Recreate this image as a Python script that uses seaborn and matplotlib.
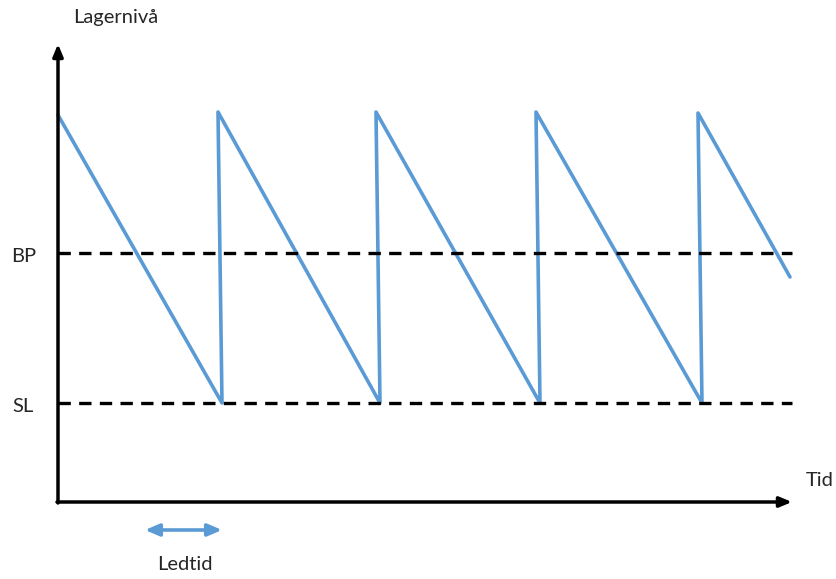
import matplotlib
matplotlib.use("Agg")
import matplotlib.pyplot as plt
import numpy as np
import pandas as pd
import seaborn as sns

# sawtooth inventory level (time, level)
time = [0, 164, 160, 322, 318, 482, 478, 644, 640, 732]
level = [387, 99, 390, 99, 390, 99, 390, 99, 389, 225]
bp_level = 249
sl_level = 99
lead_start, lead_end = 87, 164

sns.set_theme(style="white")
plt.rcParams["font.family"] = ["Lato", "DejaVu Sans"]

fig = plt.figure(figsize=(8.36, 5.79), dpi=100)
ax = fig.add_axes([0, 0, 1, 1])
ax.set_xlim(-58, 778)
ax.set_ylim(-77, 502)
ax.axis("off")

blue = "#5B9BD5"
df = pd.DataFrame({"time": time, "level": level})
sns.lineplot(data=df, x="time", y="level", sort=False, color=blue, linewidth=2.6, ax=ax)

for y in (bp_level, sl_level):
    ax.plot([0, 734], [y, y], color="black", linewidth=2.4, linestyle=(0, (3.7, 2.5)))

# axes with arrows
ax.annotate("", xy=(0, 458), xytext=(0, -1),
            arrowprops=dict(arrowstyle="-|>,head_length=0.6,head_width=0.25", color="black", lw=2.5,
                            shrinkA=0, shrinkB=0))
ax.annotate("", xy=(734, 0), xytext=(-1, 0),
            arrowprops=dict(arrowstyle="-|>,head_length=0.6,head_width=0.25", color="black", lw=2.5,
                            shrinkA=0, shrinkB=0))

# lead time double arrow
ax.annotate("", xy=(lead_end, -28), xytext=(lead_start, -28),
            arrowprops=dict(arrowstyle="<|-|>,head_length=0.7,head_width=0.3", color=blue, lw=2.6,
                            shrinkA=0, shrinkB=0))

fs = 14.5
ax.text(58, 484, "Lagernivå", ha="center", va="center", fontsize=fs)
ax.text(-34, 245, "BP", ha="center", va="center", fontsize=fs)
ax.text(-35, 96, "SL", ha="center", va="center", fontsize=fs)
ax.text(762, 21, "Tid", ha="center", va="center", fontsize=fs)
ax.text(127, -63, "Ledtid", ha="center", va="center", fontsize=fs)

fig.savefig("out.png", dpi=100)
